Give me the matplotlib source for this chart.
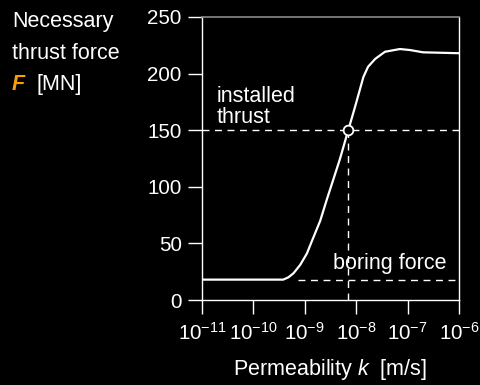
import numpy as np
import matplotlib
matplotlib.use("Agg")
import matplotlib.pyplot as plt

plt.rcParams['font.family'] = ['Liberation Sans', 'DejaVu Sans']
plt.rcParams['mathtext.fontset'] = 'custom'
plt.rcParams['mathtext.rm'] = 'Liberation Sans'
plt.rcParams['mathtext.it'] = 'Liberation Sans:italic'
plt.rcParams['mathtext.bf'] = 'Liberation Sans:bold'

# thrust force curve: permeability exponent (log10 k) vs force F [MN]
log_k = [-11.0, -9.42, -9.32, -9.22, -9.09, -8.96, -8.84, -8.70, -8.57,
         -8.32, -8.155, -8.02, -7.86, -7.77, -7.63, -7.44, -7.15, -6.95,
         -6.70, -6.0]
force = [18, 18, 20, 23.6, 31, 41, 54.5, 70, 89,
         124, 150, 171, 197, 206, 213, 219.3, 221.7, 220.8,
         218.8, 218]

installed_thrust = 150
k_installed = 7e-9
boring_force = 18
k_boring_start = 7.4e-10

x_ticks = [1e-11, 1e-10, 1e-9, 1e-8, 1e-7, 1e-6]
y_ticks = [0, 50, 100, 150, 200, 250]

k = 10.0 ** np.array(log_k)

fig = plt.figure(figsize=(4.8, 3.85), dpi=100, facecolor='black')
ax = fig.add_axes([202/480, 1-300/385, 257/480, 283/385], facecolor='black')

fs = 14.8   # tick labels
fs_txt = 15.5   # captions and annotations
ax.plot(k, force, color='white', lw=1.6, solid_capstyle='round',
        solid_joinstyle='round', zorder=3)

# installed thrust and boring force guide lines
dash = dict(color='white', lw=1.0, dashes=(5, 4))
ax.plot([1e-11, 1e-6], [installed_thrust, installed_thrust], **dash)
ax.plot([k_installed, k_installed], [0, installed_thrust], **dash)
ax.plot([k_boring_start, 1e-6], [boring_force, boring_force], **dash)
ax.plot([k_installed], [installed_thrust], marker='o', ms=7, mfc='black',
        mec='white', mew=1.3, zorder=4)

ax.text(10**-10.72, 152, "installed\nthrust", color='white', fontsize=fs_txt,
        ha='left', va='bottom', linespacing=1.02)
ax.text(10**-8.45, 32, "boring force", color='white', fontsize=fs_txt,
        ha='left', va='center')

ax.set_xscale('log')
ax.set_xlim(1e-11, 1e-6)
ax.set_ylim(0, 250)
ax.set_xticks(x_ticks)
ax.set_yticks(y_ticks)
ax.minorticks_off()
ax.tick_params(colors='white', labelcolor='white', labelsize=fs,
               length=10, width=1.0, direction='out')
ax.tick_params(axis='x', pad=5.5)
ax.tick_params(axis='y', pad=4.5)

for side in ['left', 'bottom', 'right']:
    ax.spines[side].set_color('white')
    ax.spines[side].set_linewidth(1.0)
ax.spines['top'].set_color('#8a8a8a')
ax.spines['top'].set_linewidth(1.2)

ax.set_xlabel("Permeability $k$  [m/s]", color='white', fontsize=fs_txt, labelpad=10)

# y axis caption in the upper left corner
fig.text(12/480, 1-27/385, "Necessary", color='white', fontsize=fs_txt, va='baseline')
fig.text(12/480, 1-59/385, "thrust force", color='white', fontsize=fs_txt, va='baseline')
fig.text(12/480, 1-90/385, "F", color='#f5a000', fontsize=fs_txt, va='baseline',
         fontweight='bold', fontstyle='italic')
fig.text(36/480, 1-90/385, "[MN]", color='white', fontsize=fs_txt, va='baseline')

fig.savefig("out.png", dpi=100, facecolor='black')
